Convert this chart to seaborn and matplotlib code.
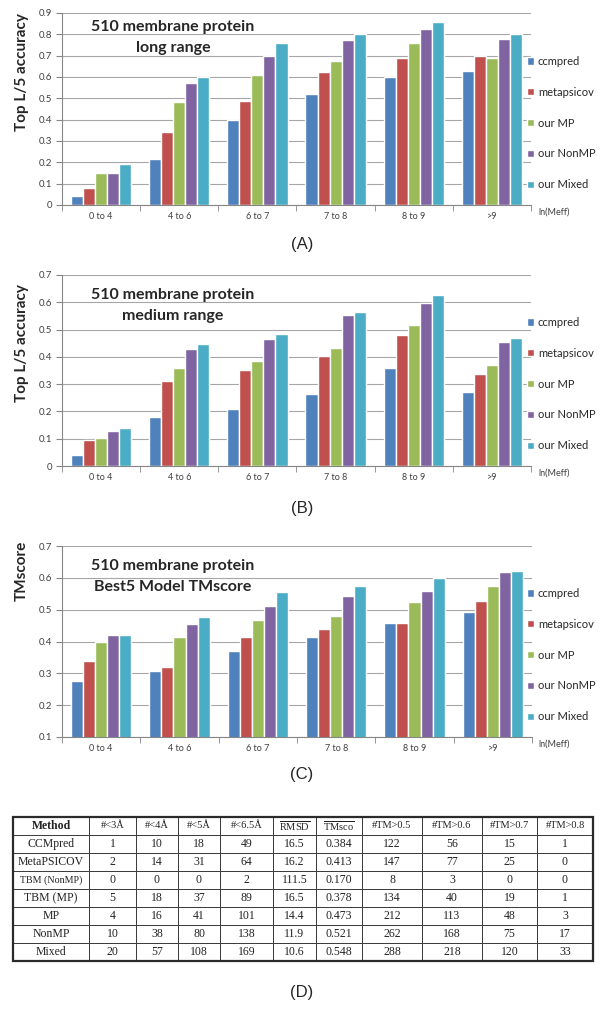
import numpy as np
import pandas as pd
import matplotlib
matplotlib.use('Agg')
import matplotlib.pyplot as plt
import seaborn as sns

# ---- data ----
bins = ['0 to 4', '4 to 6', '6 to 7', '7 to 8', '8 to 9', '>9']
methods = ['ccmpred', 'metapsicov', 'our MP', 'our NonMP', 'our Mixed']
colors = ['#4F81BD', '#C0504D', '#9BBB59', '#8064A2', '#4BACC6']

long_ccmpred = [0.044, 0.215, 0.400, 0.518, 0.600, 0.628]
long_metapsicov = [0.079, 0.341, 0.488, 0.622, 0.690, 0.700]
long_mp = [0.151, 0.485, 0.609, 0.674, 0.760, 0.688]
long_nonmp = [0.151, 0.572, 0.697, 0.773, 0.826, 0.780]
long_mixed = [0.193, 0.600, 0.758, 0.800, 0.860, 0.800]

med_ccmpred = [0.040, 0.180, 0.210, 0.263, 0.358, 0.273]
med_metapsicov = [0.095, 0.313, 0.351, 0.404, 0.479, 0.339]
med_mp = [0.101, 0.359, 0.384, 0.434, 0.515, 0.370]
med_nonmp = [0.128, 0.428, 0.466, 0.552, 0.597, 0.455]
med_mixed = [0.139, 0.448, 0.484, 0.566, 0.625, 0.468]

tm_ccmpred = [0.276, 0.306, 0.371, 0.414, 0.458, 0.494]
tm_metapsicov = [0.338, 0.320, 0.414, 0.439, 0.458, 0.527]
tm_mp = [0.400, 0.414, 0.466, 0.480, 0.523, 0.574]
tm_nonmp = [0.419, 0.455, 0.513, 0.544, 0.559, 0.617]
tm_mixed = [0.419, 0.478, 0.555, 0.573, 0.600, 0.622]

tbl_header = ['Method', '#<3Å', '#<4Å', '#<5Å', '#<6.5Å', r'$\overline{\mathrm{RMSD}}$',
              r'$\overline{\mathrm{TMsco}}$', '#TM>0.5', '#TM>0.6', '#TM>0.7', '#TM>0.8']
tbl_method = ['CCMpred', 'MetaPSICOV', 'TBM (NonMP)', 'TBM (MP)', 'MP', 'NonMP', 'Mixed']
tbl_lt3 = [1, 2, 0, 5, 4, 10, 20]
tbl_lt4 = [10, 14, 0, 18, 16, 38, 57]
tbl_lt5 = [18, 31, 0, 37, 41, 80, 108]
tbl_lt65 = [49, 64, 2, 89, 101, 138, 169]
tbl_rmsd = ['16.5', '16.2', '111.5', '16.5', '14.4', '11.9', '10.6']
tbl_tmsco = ['0.384', '0.413', '0.170', '0.378', '0.473', '0.521', '0.548']
tbl_tm05 = [122, 147, 8, 134, 212, 262, 288]
tbl_tm06 = [56, 77, 3, 40, 113, 168, 218]
tbl_tm07 = [15, 25, 0, 19, 48, 75, 120]
tbl_tm08 = [1, 0, 0, 1, 3, 17, 33]

sns.set_style('white')
plt.rcParams['font.family'] = ['Lato', 'DejaVu Sans']
plt.rcParams['mathtext.fontset'] = 'custom'
plt.rcParams['mathtext.rm'] = 'Liberation Serif'

W, H = 604, 1017
fig = plt.figure(figsize=(W / 100, H / 100), dpi=100)


def fbox(x0, y0, x1, y1):
    return [x0 / W, 1 - y1 / H, (x1 - x0) / W, (y1 - y0) / H]


def make_df(series):
    rows = []
    for m, vals in zip(methods, series):
        for b, v in zip(bins, vals):
            rows.append({'bin': b, 'method': m, 'value': v})
    return pd.DataFrame(rows)


def panel(box, series, ymin, ymax, ylabel, ylab_y, title2, title_y, leg_y, tag, tag_y):
    ax = fig.add_axes(fbox(*box))
    df = make_df(series)
    sns.barplot(data=df, x='bin', y='value', hue='method', palette=colors,
                saturation=1, width=0.77, ax=ax, legend=True)
    ax.set_xlim(-0.5, 5.5)
    ax.set_ylim(ymin, ymax)
    ticks = np.round(np.arange(ymin, ymax + 0.001, 0.1), 1)
    ax.set_yticks(ticks)
    ax.set_yticklabels(['0' if t == 0 else f'{t:.1f}' for t in ticks], fontsize=7, color='#404040')
    ax.yaxis.grid(True, color='#A6A6A6', lw=0.8)
    ax.set_axisbelow(True)
    for s in ['top', 'right']:
        ax.spines[s].set_visible(False)
    for s in ['left', 'bottom']:
        ax.spines[s].set_color('#868686')
        ax.spines[s].set_linewidth(0.8)
    ax.tick_params(axis='y', length=4, color='#868686', left=True, pad=3)
    ax.set_xticks(range(6))
    ax.set_xticklabels(bins, fontsize=6.5, color='#404040')
    ax.tick_params(axis='x', length=0, pad=5)
    ax.set_xticks(np.arange(-0.5, 6, 1), minor=True)
    ax.tick_params(axis='x', which='minor', length=4, color='#868686', bottom=True)
    ax.set_xlabel('')
    ax.set_ylabel('')
    fig.text(22 / W, 1 - ylab_y / H, ylabel, rotation=90, ha='center', va='center',
             fontsize=11, fontweight='bold')
    fig.text(173 / W, 1 - title_y / H, '510 membrane protein', ha='center', va='center',
             fontsize=11.5, fontweight='bold')
    fig.text(173 / W, 1 - (title_y + 21) / H, title2, ha='center', va='center',
             fontsize=11.5, fontweight='bold')
    fig.text(538 / W, 1 - (box[3] + 7) / H, 'ln(Meff)', ha='left', va='center',
             fontsize=6.5, color='#404040')
    handles, labels = ax.get_legend_handles_labels()
    ax.legend(handles, labels, loc='upper left', bbox_transform=fig.transFigure,
              bbox_to_anchor=(527 / W, 1 - (leg_y - 5) / H), frameon=False,
              fontsize=8.0, handlelength=0.62, handleheight=0.62, handletextpad=0.35,
              labelspacing=1.78, borderpad=0, borderaxespad=0)
    fig.text(0.5, 1 - tag_y / H, tag, ha='center', va='center', fontsize=12,
             family='Liberation Sans')
    return ax


panel((62, 13, 531, 205),
      [long_ccmpred, long_metapsicov, long_mp, long_nonmp, long_mixed],
      0, 0.9, 'Top L/5 accuracy', 72, 'long range', 27, 61, '(A)', 245)
panel((62, 275, 531, 466),
      [med_ccmpred, med_metapsicov, med_mp, med_nonmp, med_mixed],
      0, 0.7, 'Top L/5 accuracy', 343, 'medium range', 295, 322, '(B)', 509)
panel((62, 546, 532, 737),
      [tm_ccmpred, tm_metapsicov, tm_mp, tm_nonmp, tm_mixed],
      0.1, 0.7, 'TMscore', 571, 'Best5 Model TMscore', 566, 593, '(C)', 775)

# ---- table (D) ----
col_edges = [13, 89, 136, 178, 220, 273, 316, 362, 422, 482, 537, 593]
tx0, tx1, ty0, ty1 = 13, 593, 817, 961
tax = fig.add_axes(fbox(tx0, ty0, tx1, ty1))
tax.axis('off')
widths = np.diff(col_edges) / (tx1 - tx0)
cells = []
for i in range(len(tbl_method)):
    cells.append([tbl_method[i], tbl_lt3[i], tbl_lt4[i], tbl_lt5[i], tbl_lt65[i],
                  tbl_rmsd[i], tbl_tmsco[i], tbl_tm05[i], tbl_tm06[i], tbl_tm07[i], tbl_tm08[i]])
cells = [[str(c) for c in row] for row in cells]
tb = tax.table(cellText=cells, colLabels=tbl_header, colWidths=list(widths),
               cellLoc='center', bbox=[0, 0, 1, 1])
tb.auto_set_font_size(False)
for (r, c), cell in tb.get_celld().items():
    cell.set_edgecolor('#3A3A3A')
    cell.set_linewidth(0.7)
    txt = cell.get_text()
    txt.set_fontfamily('Liberation Serif')
    txt.set_color('#222222')
    size = 8.5
    if r == 0:
        size = 7.5 if c > 0 else 8.5
        if c == 0:
            txt.set_fontweight('bold')
    elif c == 0 and tbl_method[r - 1] == 'TBM (NonMP)':
        size = 7.2
    txt.set_fontsize(size)
tax.add_patch(plt.Rectangle((0, 0), 1, 1, transform=tax.transAxes, fill=False,
                            edgecolor='#2A2A2A', lw=1.6, clip_on=False))
fig.text(0.5, 1 - 993 / H, '(D)', ha='center', va='center', fontsize=12,
         family='Liberation Sans')

fig.savefig('out.png', dpi=100)
